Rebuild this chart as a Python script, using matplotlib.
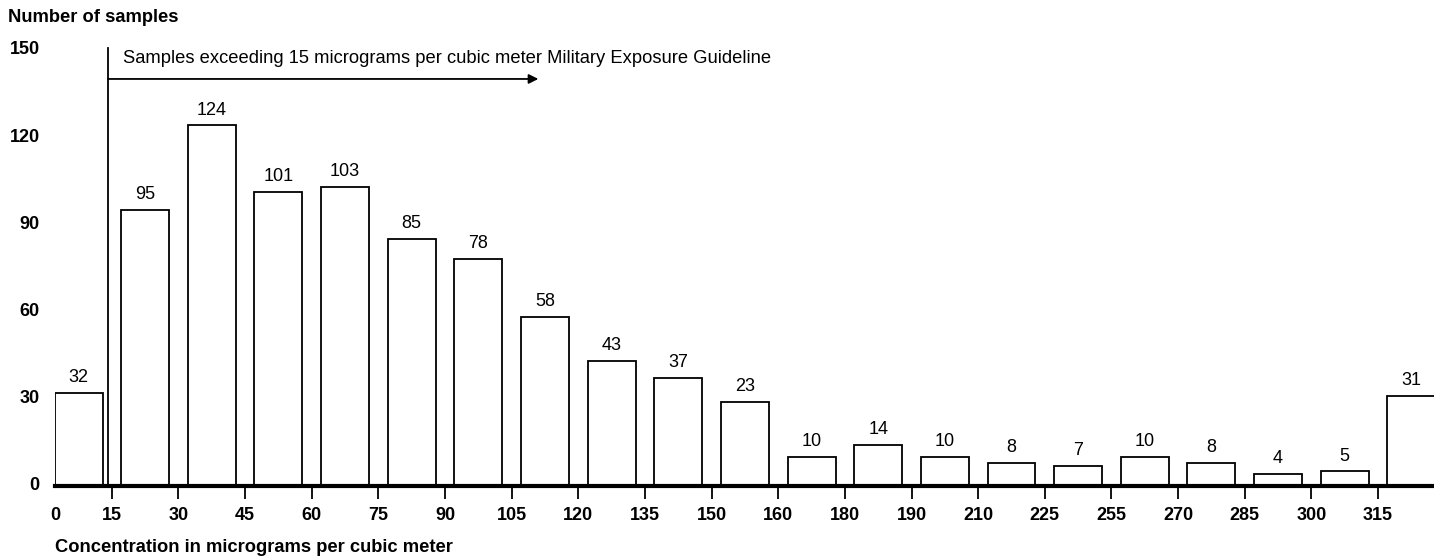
import numpy as np
import matplotlib
matplotlib.use("Agg")
import matplotlib.pyplot as plt

plt.rcParams['font.family'] = ['Liberation Sans', 'DejaVu Sans']

# printed counts and drawn bar heights (the "23" bar is drawn taller in the original)
counts = [32, 95, 124, 101, 103, 85, 78, 58, 43, 37, 23, 10, 14, 10, 8, 7, 10, 8, 4, 5, 31]
heights = [32, 95, 124, 101, 103, 85, 78, 58, 43, 37, 29, 10, 14, 10, 8, 7, 10, 8, 4, 5, 31]
edge_labels = ["0", "15", "30", "45", "60", "75", "90", "105", "120", "135", "150",
               "160", "180", "190", "210", "225", "255", "270", "285", "300", "315"]
yticks = [0, 30, 60, 90, 120, 150]
threshold_text = "Samples exceeding 15 micrograms per cubic meter Military Exposure Guideline"

fig = plt.figure(figsize=(14.34, 5.56), dpi=100)
ax = fig.add_axes([55/1434, 1 - 486/556, 1 - 55/1434, 446/556])

x = np.arange(len(heights))
bars = ax.bar(x, heights, width=0.72, facecolor='white', edgecolor='black', linewidth=1.3)
ax.bar_label(bars, labels=[str(c) for c in counts], padding=5, fontsize=13)

ax.set_xlim(-0.353, 20.34)
ax.set_ylim(0, 153.4)

tick_pos = [-0.353] + [i - 0.5 for i in range(1, len(edge_labels))]
ax.set_xticks(tick_pos)
ax.set_xticklabels(edge_labels, fontsize=13, fontweight='bold')
ax.tick_params(axis='x', direction='out', length=9, width=1.3, pad=6)
ax.get_xticklines()[0].set_visible(False)

ax.set_yticks([])
for v in yticks:
    ax.text(-0.58, v, str(v), ha='right', va='center', fontsize=13, fontweight='bold',
            clip_on=False)

for s in ['top', 'right', 'left']:
    ax.spines[s].set_visible(False)
ax.spines['bottom'].set_linewidth(3)

# threshold marker
ax.plot([0.44, 0.44], [0, 150.7], color='black', lw=1.3, clip_on=False)
ax.annotate("", xy=(6.9, 140), xytext=(0.44, 140),
            arrowprops=dict(arrowstyle='-|>', color='black', lw=1.3, mutation_scale=14,
                            shrinkA=0, shrinkB=0))
ax.text(0.66, 147, threshold_text, ha='left', va='center', fontsize=13.2)

fig.text(8/1434, 1 - 18/556, "Number of samples", ha='left', va='center',
         fontsize=13.2, fontweight='bold')
fig.text(55/1434, 1 - 548/556, "Concentration in micrograms per cubic meter", ha='left',
         va='center', fontsize=13.2, fontweight='bold')

fig.savefig("out.png", dpi=100)
